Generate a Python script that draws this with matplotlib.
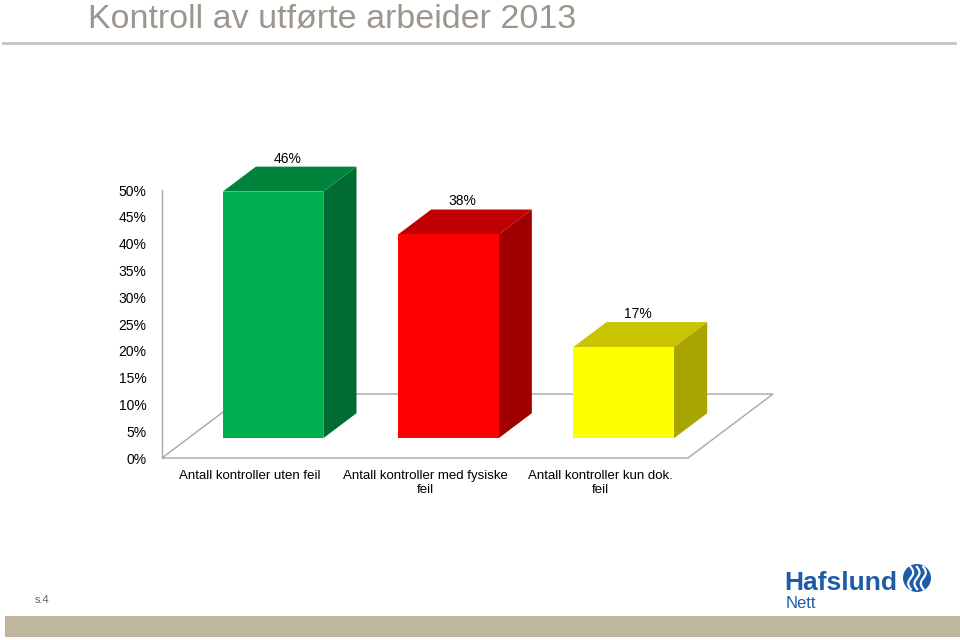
import numpy as np
import matplotlib
matplotlib.use('Agg')
import matplotlib.pyplot as plt
from matplotlib.patches import Polygon, Rectangle, Circle
from matplotlib.lines import Line2D

plt.rcParams['font.family'] = ['Liberation Sans', 'DejaVu Sans']

# ---- data ----
categories = ['Antall kontroller uten feil',
              'Antall kontroller med fysiske\nfeil',
              'Antall kontroller kun dok.\nfeil']
values = [46, 38, 17]
value_labels = ['46%', '38%', '17%']
yticks = [0, 5, 10, 15, 20, 25, 30, 35, 40, 45, 50]
ytick_labels = ['%d%%' % t for t in yticks]

front_colors = ['#00B050', '#FF0000', '#FFFF00']
top_colors = ['#00843C', '#C00000', '#C8C400']
side_colors = ['#006B32', '#A00000', '#A8A400']

title = 'Kontroll av utførte arbeider 2013'
title_color = '#9D968D'
grey = '#A6A6A6'

# ---- figure ----
fig = plt.figure(figsize=(9.6, 6.4), dpi=100)
ax = fig.add_axes([162 / 960, 182 / 640, 526 / 960, 268 / 640])
ax.set_xlim(0, 3)
ax.set_ylim(0, 50)

# 3D depth of the floor in data units (oblique projection)
ddx = 85 * 3 / 526
ddy = 64 * 50 / 268
f0, f1 = 0.31, 0.70   # bar front / back position in the depth
w = 0.287            # half bar width

# floor
floor = Polygon([(0, 0), (3, 0), (3 + ddx, ddy), (ddx, ddy)], closed=True,
                facecolor='white', edgecolor=grey, lw=1, clip_on=False, zorder=1)
ax.add_patch(floor)

for i, v in enumerate(values):
    c = i + 0.483
    ox0, oy0 = f0 * ddx, f0 * ddy
    ox1, oy1 = f1 * ddx, f1 * ddy
    # side
    side = Polygon([(c + w + ox0, oy0), (c + w + ox0, v + oy0),
                    (c + w + ox1, v + oy1), (c + w + ox1, oy1)],
                   closed=True, facecolor=side_colors[i], edgecolor='none',
                   clip_on=False, zorder=3)
    ax.add_patch(side)
    # top
    top = Polygon([(c - w + ox0, v + oy0), (c + w + ox0, v + oy0),
                   (c + w + ox1, v + oy1), (c - w + ox1, v + oy1)],
                  closed=True, facecolor=top_colors[i], edgecolor='none',
                  clip_on=False, zorder=3)
    ax.add_patch(top)
    # front
    front = Rectangle((c - w + ox0, oy0), 2 * w, v, facecolor=front_colors[i],
                      edgecolor='none', clip_on=False, zorder=4)
    ax.add_patch(front)
    ax.text(c + 0.48 * ddx, v + oy1 + 0.2, value_labels[i], ha='center', va='bottom',
            fontsize=10, color='black', zorder=5)

for s in ['top', 'right', 'bottom']:
    ax.spines[s].set_visible(False)
ax.spines['left'].set_color(grey)
ax.spines['left'].set_linewidth(1)
ax.patch.set_alpha(0)

ax.set_yticks(yticks)
ax.set_yticklabels(ytick_labels)
ax.set_xticks([0.5, 1.5, 2.5])
ax.set_xticklabels(categories)
ax.tick_params(axis='y', length=0, pad=11, labelsize=10)
ax.tick_params(axis='x', length=0, pad=8.5, labelsize=9.5)

# ---- page decoration ----
fig.text(88 / 960, 1 - 28 / 640, title, fontsize=24.5, color=title_color,
         va='baseline', ha='left')
fig.add_artist(Line2D([3 / 960, 955 / 960], [1 - 43 / 640, 1 - 43 / 640],
                      color='#C3C3C3', lw=2))
fig.add_artist(Rectangle((5 / 960, 3 / 640), 955 / 960, 21 / 640,
                         facecolor='#C0B6A0', edgecolor='none',
                         transform=fig.transFigure))
fig.text(35 / 960, 1 - 600 / 640, 's.4', fontsize=8, color='#606060', va='center')

logo_blue = '#1E5CA8'
fig.text(784 / 960, 1 - 590 / 640, 'Hafslund', fontsize=19, fontweight='bold',
         color=logo_blue, va='baseline', ha='left')
fig.text(786 / 960, 1 - 608 / 640, 'Nett', fontsize=12, color=logo_blue,
         va='baseline', ha='left')

# emblem
eax = fig.add_axes([903 / 960, 1 - 592 / 640, 28 / 960, 28 / 640])
eax.set_xlim(-1, 1)
eax.set_ylim(-1, 1)
eax.set_aspect('equal')
eax.axis('off')
eax.add_patch(Circle((0, 0), 0.95, color=logo_blue))
t = np.linspace(-0.8, 0.8, 50)
for k in [-0.45, 0.0, 0.45]:
    xs = k + 0.18 * np.sin(t * 4)
    eax.plot(xs, t, color='white', lw=1.6)

fig.savefig('out.png', dpi=100, facecolor='white')
